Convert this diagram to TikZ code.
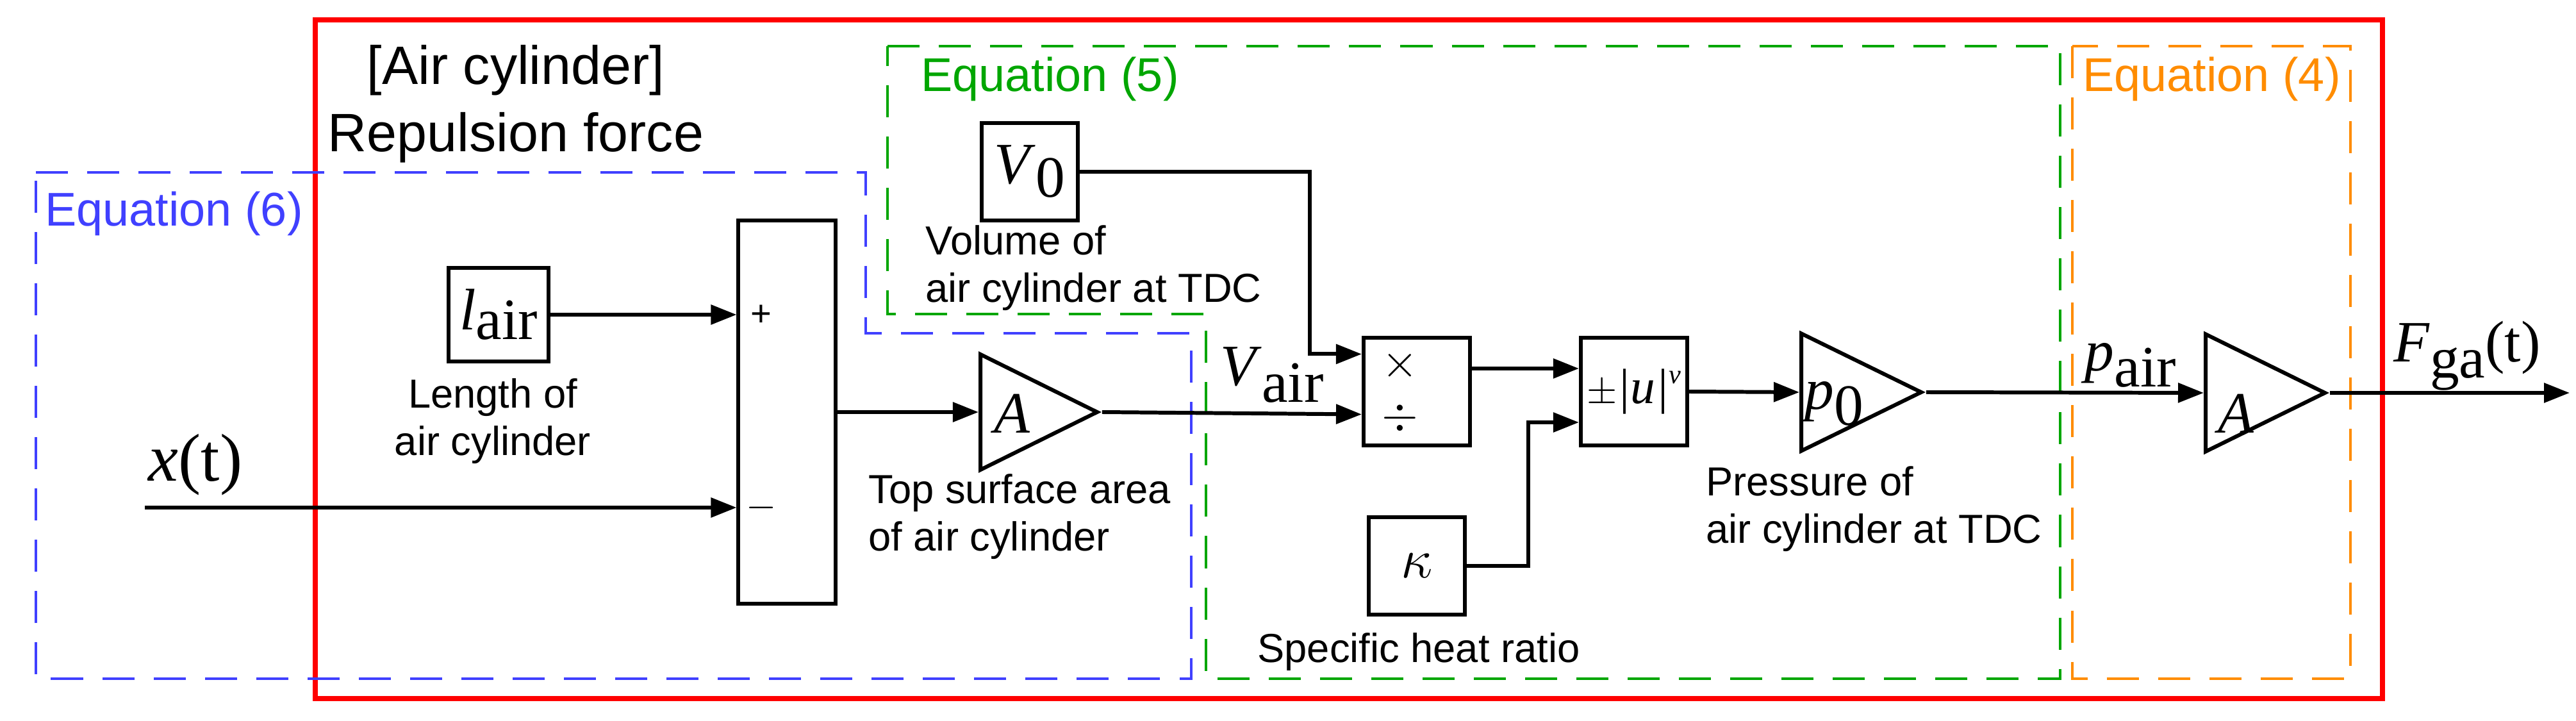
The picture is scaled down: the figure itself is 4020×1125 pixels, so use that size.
\documentclass[tikz,border=0pt]{standalone}
\usepackage{fontspec}
\setmainfont{Liberation Sans}
\newfontfamily\tms{Liberation Serif}
\usetikzlibrary{arrows.meta,shapes.geometric}
\begin{document}
\begin{tikzpicture}[x=0.01cm,y=-0.01cm,
  blk/.style={draw,line width=1.7pt,inner sep=0pt},
  tri/.style={draw,line width=1.7pt,isosceles triangle,isosceles triangle stretches,inner sep=0pt,anchor=west},
  con/.style={line width=1.7pt,-{Triangle[length=4mm,width=3mm]}},
  lab/.style={font=\fontsize{18}{21}\selectfont,align=left,anchor=west},
  mth/.style={font=\fontsize{26}{30}\selectfont\tms},
  eq/.style={font=\fontsize{21}{24}\selectfont,anchor=west}]
\useasboundingbox (0,0) rectangle (4020,1125);
% frames
\draw[red,line width=2.4pt] (492,31) rectangle (3718,1090);
\draw[blue!75!white,dashed,line width=1.2pt,dash pattern=on 5mm off 3mm] (56,269) -- (1351,269) -- (1351,520) -- (1859,520) -- (1859,1059) -- (56,1059) -- cycle;
\draw[green!65!black,dashed,line width=1.2pt,dash pattern=on 5mm off 3mm] (1385,72) -- (3215,72) -- (3215,1059) -- (1882,1059) -- (1882,490) -- (1385,490) -- cycle;
\draw[orange!90!yellow,dashed,line width=1.2pt,dash pattern=on 5mm off 3mm] (3234,72) rectangle (3668,1059);
\node[eq,blue!75!white] (e6) at (58,333) {Equation (6)};
\node[eq,green!65!black] (e5) at (1425,123) {Equation (5)};
\node[eq,orange!90!yellow] (e4) at (3238,123) {Equation (4)};
\node[font=\fontsize{24}{30}\selectfont,align=center] (title) at (805,162) {[Air cylinder]\\Repulsion force};
% blocks
\node[blk,minimum width=1.55cm,minimum height=1.45cm] (lair) at (778,491) {\fontsize{26}{30}\selectfont\tms\textit{l}\raisebox{-0.35ex}{air}};
\node[blk,minimum width=1.51cm,minimum height=5.98cm] (sum) at (1228,643) {};
\node[blk,minimum width=1.5cm,minimum height=1.51cm] (V0) at (1607,268) {\fontsize{26}{30}\selectfont\tms\textit{V}\raisebox{-0.5ex}{0}};
\node[blk,minimum width=1.66cm,minimum height=1.67cm] (md) at (2211,611) {};
\node[blk,minimum width=1.5cm,minimum height=1.52cm] (kap) at (2211,883) {\fontsize{28}{30}\selectfont$\kappa$};
\node[blk,minimum width=1.66cm,minimum height=1.68cm] (pw) at (2550,611) {\fontsize{16}{20}\selectfont$\pm$\tms\textit{\fontsize{22}{24}\selectfont|u|}\raisebox{1.2ex}{\fontsize{12}{12}\selectfont\textit{v}}};
\node[tri,minimum width=1.8cm,minimum height=1.82cm] (A1) at (1527,643) {};
\node[tri,minimum width=1.83cm,minimum height=1.87cm] (P0) at (2808,612) {};
\node[tri,minimum width=1.83cm,minimum height=1.86cm] (A2) at (3439,613) {};
\node[mth] (A1t) at (1580,645) {\textit{A}};
\node[mth] (P0t) at (2862,630) {\textit{p}\raisebox{-0.6ex}{0}};
\node[mth] (A2t) at (3490,645) {\textit{A}};
\node[font=\fontsize{16}{19}\selectfont] (plus) at (1188,492) {+};
\node[font=\fontsize{16}{19}\selectfont] (minus) at (1188,792) {$-$};
\node[font=\fontsize{22}{24}\selectfont] (times) at (2185,570) {$\times$};
\node[font=\fontsize{22}{24}\selectfont] (div) at (2185,652) {$\div$};
% signal labels
\node[mth,font=\fontsize{30}{34}\selectfont\tms] (xt) at (305,725) {\textit{x}(t)};
\node[mth] (Vair) at (1985,585) {\textit{V}\raisebox{-0.6ex}{air}};
\node[mth] (pair) at (3325,570) {\textit{p}\raisebox{-0.6ex}{air}};
\node[mth] (Fga) at (3850,555) {\textit{F}\raisebox{-0.6ex}{ga}(t)};
% descriptions
\node[font=\fontsize{18}{21}\selectfont,align=center] (dl) at (769,657) {Length of\\air cylinder};
\node[lab] (dv) at (1432,418) {Volume of\\air cylinder at TDC};
\node[lab] (da) at (1343,806) {Top surface area\\of air cylinder};
\node[lab] (dk) at (1950,1017) {Specific heat ratio};
\node[lab] (dp) at (2650,794) {Pressure of\\air cylinder at TDC};
% connectors
\coordinate (xs) at (226,792);
\coordinate (md1) at ([yshift=-0.28cm]md.north west);
\coordinate (md2) at ([yshift=0.51cm]md.south west);
\coordinate (mdo) at ([yshift=0.36cm]md.east);
\coordinate (pw1) at ([yshift=0.36cm]pw.west);
\coordinate (pw2) at ([yshift=-0.48cm]pw.west);
\coordinate (out) at (4010,613);
\draw[con] (xs) -- (sum.west |- xs);
\draw[con] (lair.east) -- (sum.west |- lair.east);
\draw[con] (sum.east |- A1.west) -- (A1.west);
\draw[con] (A1.apex) -- (md2);
\draw[con] (V0.east) -| ([xshift=-0.81cm]md1) -- (md1);
\draw[con] (mdo) -- (pw1);
\draw[con] (kap.east) -| ([xshift=-0.79cm]pw2) -- (pw2);
\draw[con] (pw.east) -- (P0.west);
\draw[con] (P0.apex) -- (A2.west);
\draw[con] (A2.apex) -- (out);
\end{tikzpicture}
\end{document}
